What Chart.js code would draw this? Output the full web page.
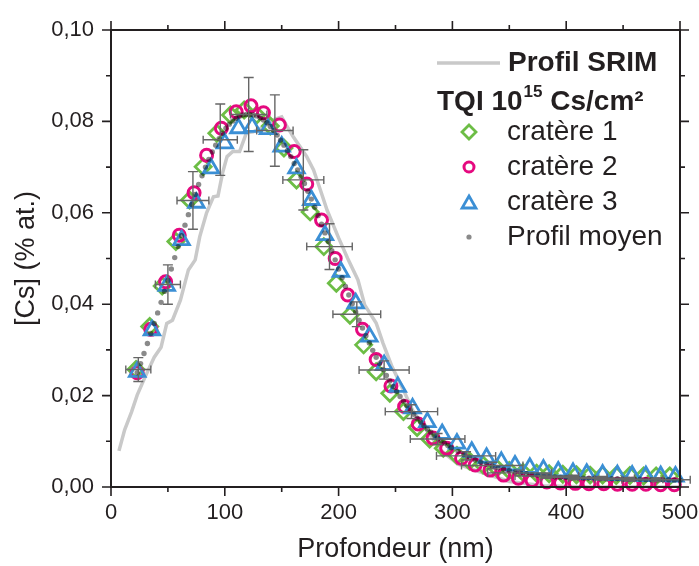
<!DOCTYPE html>
<html>
<head>
<meta charset="utf-8">
<script src="https://cdn.jsdelivr.net/npm/chart.js@4.4.1/dist/chart.umd.min.js"></script>
<style>
  html, body { margin: 0; padding: 0; background: #fff; }
  #wrap { width: 699px; height: 566px; }
</style>
</head>
<body>
<div id="wrap"><canvas id="c" width="699" height="566"></canvas></div>
<script>
// SRIM simulated profile (gray line)
const srimDepth = [7, 12, 18, 23, 30, 38, 44, 49, 54, 61, 68, 74, 78, 84, 90, 94, 98, 102, 107, 113, 119, 125, 134, 142, 150, 154, 160, 166, 172, 178, 184, 190, 200, 208, 217, 223, 233, 239, 247, 257, 265, 277, 290, 305, 324, 350, 380, 420, 500];
const srimVal = [0.0079, 0.0125, 0.0164, 0.0201, 0.0241, 0.0284, 0.0306, 0.0358, 0.0365, 0.0409, 0.0475, 0.0497, 0.0548, 0.0600, 0.0635, 0.0637, 0.0687, 0.0723, 0.0734, 0.0734, 0.0775, 0.0777, 0.0788, 0.0803, 0.0810, 0.0792, 0.0767, 0.0745, 0.0723, 0.0694, 0.0650, 0.0605, 0.0545, 0.0500, 0.0453, 0.0398, 0.0359, 0.0315, 0.0263, 0.0212, 0.0168, 0.0125, 0.0080, 0.0050, 0.0033, 0.0012, 0.0003, 0.0000, 0.0000];

// cratère 1 (green diamonds)
const c1Depth = [22, 34, 45, 57, 69, 81, 93, 105, 117, 128, 140, 152, 163, 175, 187, 198, 210, 222, 233, 245, 257, 269, 280, 292, 304, 315, 327, 339, 350, 362, 374, 385, 397, 409, 421, 432, 444, 456, 468, 479, 491];
const c1Val = [0.0257, 0.0351, 0.0440, 0.0537, 0.0628, 0.0701, 0.0774, 0.0814, 0.0825, 0.0814, 0.0790, 0.0742, 0.0672, 0.0602, 0.0526, 0.0446, 0.0376, 0.0311, 0.0252, 0.0205, 0.0165, 0.0130, 0.0105, 0.0085, 0.0069, 0.0057, 0.0048, 0.0041, 0.0036, 0.0032, 0.0030, 0.0029, 0.0028, 0.0027, 0.0026, 0.0026, 0.0025, 0.0025, 0.0024, 0.0024, 0.0024];

// cratère 2 (pink circles)
const c2Depth = [23, 35, 48, 60, 73, 84, 97, 110, 123, 134, 148, 161, 172, 185, 197, 208, 221, 233, 246, 258, 270, 283, 295, 308, 320, 333, 345, 358, 370, 383, 395, 408, 420, 433, 445, 458, 470, 483, 495];
const c2Val = [0.0250, 0.0345, 0.0449, 0.0551, 0.0644, 0.0726, 0.0785, 0.0821, 0.0834, 0.0819, 0.0792, 0.0734, 0.0663, 0.0584, 0.0500, 0.0420, 0.0345, 0.0279, 0.0221, 0.0176, 0.0138, 0.0107, 0.0085, 0.0063, 0.0048, 0.0037, 0.0026, 0.0019, 0.0014, 0.0011, 0.0009, 0.0008, 0.0007, 0.0007, 0.0006, 0.0006, 0.0006, 0.0005, 0.0005];

// cratère 3 (blue triangles)
const c3Depth = [23, 36, 49, 62, 75, 88, 100, 112, 124, 138, 150, 163, 176, 188, 202, 215, 227, 240, 252, 265, 278, 291, 304, 317, 330, 343, 355, 368, 380, 393, 406, 418, 432, 445, 458, 470, 483, 496];
const c3Val = [0.0252, 0.0343, 0.0440, 0.0540, 0.0622, 0.0697, 0.0752, 0.0785, 0.0788, 0.0783, 0.0745, 0.0697, 0.0628, 0.0551, 0.0471, 0.0402, 0.0329, 0.0267, 0.0219, 0.0172, 0.0142, 0.0116, 0.0095, 0.0077, 0.0064, 0.0055, 0.0047, 0.0042, 0.0038, 0.0034, 0.0031, 0.0029, 0.0027, 0.0026, 0.0025, 0.0024, 0.0024, 0.0023];

// profil moyen (gray dots)
const moyenDepth = [23, 26, 29, 32, 35, 38, 41, 44, 47, 50, 53, 56, 59, 62, 65, 68, 71, 74, 77, 80,
  83, 86, 89, 92, 95, 98, 101, 104, 107, 110, 113, 116, 119, 122, 125, 128, 131, 134, 137, 140,
  143, 146, 149, 152, 155, 158, 161, 164, 167, 170, 173, 176, 179, 182, 185, 188, 191, 194, 197, 200,
  203, 206, 209, 212, 215, 218, 221, 224, 227, 230, 233, 236, 239, 242, 245, 248, 251, 254, 257, 260,
  263, 266, 269, 272, 275, 278, 281, 284, 287, 290, 293, 296, 299,
  305, 310, 315, 320, 325, 330, 335, 340, 345, 350, 355, 360, 365, 370, 375, 380, 385, 390, 395, 400,
  405, 410, 415, 420, 425, 430, 435, 440, 445, 450, 455, 460, 465, 470, 475, 480, 485, 490, 495, 500];
const moyenVal = [0.0250, 0.0270, 0.0292, 0.0314, 0.0336, 0.0358, 0.0381, 0.0404, 0.0428, 0.0452, 0.0477, 0.0502, 0.0526, 0.0550, 0.0573, 0.0596, 0.0618, 0.0640, 0.0662, 0.0681,
  0.0700, 0.0717, 0.0733, 0.0748, 0.0762, 0.0774, 0.0785, 0.0794, 0.0801, 0.0807, 0.0811, 0.0814, 0.0815, 0.0815, 0.0814, 0.0812, 0.0808, 0.0803, 0.0797, 0.0789,
  0.0780, 0.0770, 0.0759, 0.0748, 0.0736, 0.0723, 0.0708, 0.0694, 0.0679, 0.0664, 0.0647, 0.0630, 0.0612, 0.0594, 0.0575, 0.0556, 0.0537, 0.0517, 0.0497, 0.0477,
  0.0458, 0.0439, 0.0420, 0.0401, 0.0383, 0.0365, 0.0348, 0.0331, 0.0315, 0.0299, 0.0284, 0.0270, 0.0257, 0.0244, 0.0232, 0.0220, 0.0209, 0.0198, 0.0188, 0.0178,
  0.0168, 0.0159, 0.0150, 0.0142, 0.0134, 0.0127, 0.0120, 0.0113, 0.0107, 0.0101, 0.0096, 0.0091, 0.0086,
  0.0078, 0.0071, 0.0065, 0.0059, 0.0054, 0.0050, 0.0046, 0.0042, 0.0039, 0.0036, 0.0033, 0.0031, 0.0029, 0.0027, 0.0026, 0.0024, 0.0023, 0.0022, 0.0021, 0.0021,
  0.0020, 0.0020, 0.0019, 0.0019, 0.0019, 0.0018, 0.0018, 0.0018, 0.0018, 0.0017, 0.0017, 0.0017, 0.0017, 0.0016, 0.0016, 0.0016, 0.0016, 0.0016, 0.0015, 0.0015];

// error bars on the mean profile
const errDepth = [24, 50, 72, 96, 121, 144, 169, 192, 216, 240, 264, 287, 312, 335, 359, 383, 407, 431, 455, 479];
const errVal = [0.0257, 0.0443, 0.0627, 0.0760, 0.0815, 0.0780, 0.0672, 0.0526, 0.0378, 0.0256, 0.0165, 0.0105, 0.0068, 0.0047, 0.0031, 0.0024, 0.0021, 0.0019, 0.0017, 0.0016];
const errDx = [11, 11, 14, 15, 16, 16, 18, 20, 21, 22, 23, 24, 26, 27, 28, 28, 29, 29, 30, 30];
const errDy = [0.0026, 0.0043, 0.0063, 0.0078, 0.0081, 0.0078, 0.0066, 0.0050, 0.0027, 0.0020, 0.0015, 0.0012, 0.0009, 0.0007, 0.0006, 0.0005, 0.0005, 0.0004, 0.0004, 0.0004];

const xTicks = [0, 100, 200, 300, 400, 500];
const yTicks = [0, 0.02, 0.04, 0.06, 0.08, 0.10];

const INK = '#231f20';
const GREEN = '#6cbd45';
const PINK = '#e5097f';
const BLUE = '#3b8fd5';
const SRIM_GRAY = '#c9c9c9';
const DOT_GRAY = '#8a8a8a';
const FONT = '"Liberation Sans", Arial, sans-serif';

function pts(xs, ys) {
    return xs.map((x, i) => ({x: x, y: ys[i]}));
}

Chart.defaults.font.family = FONT;
Chart.defaults.color = INK;

// mean profile dots are multiplied onto the markers beneath
const multiplyPlugin = {
    id: 'multiplyDots',
    beforeDatasetDraw(chart, args) {
        if (chart.data.datasets[args.index].label === 'Profil moyen') {
            chart.ctx.save();
            chart.ctx.globalCompositeOperation = 'multiply';
        }
    },
    afterDatasetDraw(chart, args) {
        if (chart.data.datasets[args.index].label === 'Profil moyen') {
            chart.ctx.restore();
        }
    }
};

// frame with outward major/minor ticks on all four sides
const framePlugin = {
    id: 'frame',
    afterDatasetsDraw(chart) {
        const ctx = chart.ctx, a = chart.chartArea;
        const sx = chart.scales.x, sy = chart.scales.y;
        ctx.save();
        ctx.strokeStyle = INK;
        ctx.lineWidth = 2;
        ctx.strokeRect(a.left, a.top, a.right - a.left, a.bottom - a.top);
        ctx.lineWidth = 1.6;
        ctx.beginPath();
        for (let v = 0; v <= 500; v += 50) {
            const px = sx.getPixelForValue(v);
            const len = v % 100 === 0 ? 9 : 5;
            ctx.moveTo(px, a.bottom); ctx.lineTo(px, a.bottom + len);
            ctx.moveTo(px, a.top); ctx.lineTo(px, a.top - len);
        }
        for (let k = 0; k <= 10; k++) {
            const py = sy.getPixelForValue(k / 100);
            const len = k % 2 === 0 ? 9 : 5;
            ctx.moveTo(a.left, py); ctx.lineTo(a.left - len, py);
            ctx.moveTo(a.right, py); ctx.lineTo(a.right + len, py);
        }
        ctx.stroke();
        ctx.restore();
    }
};

// x/y error bars of the mean profile
const errorPlugin = {
    id: 'errbars',
    afterDatasetsDraw(chart) {
        const ctx = chart.ctx;
        const sx = chart.scales.x, sy = chart.scales.y;
        ctx.save();
        ctx.strokeStyle = '#666666';
        ctx.lineWidth = 1.4;
        ctx.beginPath();
        errDepth.forEach((d, i) => {
            const cx = sx.getPixelForValue(d), cy = sy.getPixelForValue(errVal[i]);
            const x0 = sx.getPixelForValue(d - errDx[i]), x1 = sx.getPixelForValue(d + errDx[i]);
            const y0 = sy.getPixelForValue(errVal[i] + errDy[i]), y1 = sy.getPixelForValue(errVal[i] - errDy[i]);
            ctx.moveTo(x0, cy); ctx.lineTo(x1, cy);
            ctx.moveTo(x0, cy - 4); ctx.lineTo(x0, cy + 4);
            ctx.moveTo(x1, cy - 4); ctx.lineTo(x1, cy + 4);
            ctx.moveTo(cx, y0); ctx.lineTo(cx, y1);
            ctx.moveTo(cx - 5, y0); ctx.lineTo(cx + 5, y0);
            ctx.moveTo(cx - 5, y1); ctx.lineTo(cx + 5, y1);
        });
        ctx.stroke();
        ctx.restore();
    }
};

// legend block (top right)
const legendPlugin = {
    id: 'legendBlock',
    afterDraw(chart) {
        const ctx = chart.ctx, a = chart.chartArea;
        const lx = a.right - 243;
        const tx = a.right - 173;
        const mx = a.right - 211;
        ctx.save();
        ctx.textBaseline = 'middle';
        ctx.fillStyle = INK;

        // Profil SRIM
        ctx.strokeStyle = SRIM_GRAY;
        ctx.lineWidth = 3.5;
        ctx.beginPath();
        ctx.moveTo(lx, a.top + 33); ctx.lineTo(lx + 63, a.top + 33);
        ctx.stroke();
        ctx.font = 'bold 28px ' + FONT;
        ctx.fillText('Profil SRIM', lx + 71, a.top + 33);

        // TQI 10^15 Cs/cm²
        let x = lx;
        const hy = a.top + 72;
        ctx.fillText('TQI 10', x, hy);
        x += ctx.measureText('TQI 10').width + 1;
        ctx.font = 'bold 17px ' + FONT;
        ctx.fillText('15', x, hy - 10);
        x += ctx.measureText('15').width;
        ctx.font = 'bold 28px ' + FONT;
        ctx.fillText(' Cs/cm²', x, hy);

        const items = [
            {text: 'cratère 1', style: 'rectRot', color: GREEN, r: 7, bw: 2.8},
            {text: 'cratère 2', style: 'circle', color: PINK, r: 5, bw: 3},
            {text: 'cratère 3', style: 'triangle', color: BLUE, r: 8, bw: 2.8},
            {text: 'Profil moyen', style: 'dot', color: DOT_GRAY, r: 2.6, bw: 0}
        ];
        ctx.font = '28px ' + FONT;
        items.forEach((it, i) => {
            const y = a.top + 102 + i * 35;
            if (it.style === 'dot') {
                ctx.fillStyle = it.color;
                ctx.beginPath();
                ctx.arc(mx, y, it.r, 0, Math.PI * 2);
                ctx.fill();
            } else {
                ctx.strokeStyle = it.color;
                ctx.fillStyle = 'rgba(0,0,0,0)';
                ctx.lineWidth = it.bw;
                Chart.helpers.drawPoint(ctx, {pointStyle: it.style, radius: it.r, rotation: 0, borderWidth: it.bw}, mx, y + (it.style === 'triangle' ? 2 : 0));
            }
            ctx.fillStyle = INK;
            ctx.fillText(it.text, tx, y);
        });
        ctx.restore();
    }
};

new Chart(document.getElementById('c'), {
    type: 'scatter',
    data: {
        datasets: [
            {
                label: 'Profil SRIM',
                data: pts(srimDepth, srimVal),
                showLine: true,
                borderColor: SRIM_GRAY,
                borderWidth: 3.5,
                pointRadius: 0,
                order: 5
            },
            {
                label: 'cratère 1',
                data: pts(c1Depth, c1Val),
                pointStyle: 'rectRot',
                pointRadius: 8,
                pointBorderWidth: 2.8,
                borderColor: GREEN,
                backgroundColor: 'rgba(0,0,0,0)',
                clip: false,
                order: 4
            },
            {
                label: 'cratère 2',
                data: pts(c2Depth, c2Val),
                pointStyle: 'circle',
                pointRadius: 6,
                pointBorderWidth: 3,
                borderColor: PINK,
                backgroundColor: 'rgba(0,0,0,0)',
                clip: false,
                order: 3
            },
            {
                label: 'cratère 3',
                data: pts(c3Depth, c3Val),
                pointStyle: 'triangle',
                pointRadius: 9,
                pointBorderWidth: 2.8,
                borderColor: BLUE,
                backgroundColor: 'rgba(0,0,0,0)',
                clip: false,
                order: 2
            },
            {
                label: 'Profil moyen',
                data: pts(moyenDepth, moyenVal),
                pointStyle: 'circle',
                pointRadius: 2.7,
                pointBorderWidth: 0,
                backgroundColor: DOT_GRAY,
                borderColor: DOT_GRAY,
                clip: false,
                order: 1
            }
        ]
    },
    options: {
        responsive: false,
        animation: false,
        layout: {padding: {left: 0, right: 19, top: 30, bottom: 0}},
        plugins: {legend: {display: false}, tooltip: {enabled: false}},
        scales: {
            x: {
                type: 'linear',
                min: 0,
                max: 500,
                afterBuildTicks: s => { s.ticks = xTicks.map(v => ({value: v})); },
                ticks: {font: {size: 22}, padding: 5, color: INK, maxRotation: 0},
                grid: {display: false},
                border: {display: false},
                title: {display: true, text: 'Profondeur (nm)', font: {size: 27}, color: INK, padding: {top: 0, bottom: 0}},
                afterFit: s => { s.height = 79; s.paddingLeft = 0; s.paddingRight = 0; }
            },
            y: {
                type: 'linear',
                min: 0,
                max: 0.1,
                afterBuildTicks: s => { s.ticks = yTicks.map(v => ({value: v})); },
                ticks: {font: {size: 22}, padding: 9, color: INK,
                    callback: v => v.toFixed(2).replace('.', ',')},
                grid: {display: false},
                border: {display: false},
                title: {display: true, text: '[Cs] (% at.)', font: {size: 27}, color: INK, padding: {top: 10, bottom: 0}},
                afterFit: s => { s.width = 111; s.paddingTop = 0; s.paddingBottom = 0; }
            }
        }
    },
    plugins: [multiplyPlugin, errorPlugin, framePlugin, legendPlugin]
});
</script>
</body>
</html>
